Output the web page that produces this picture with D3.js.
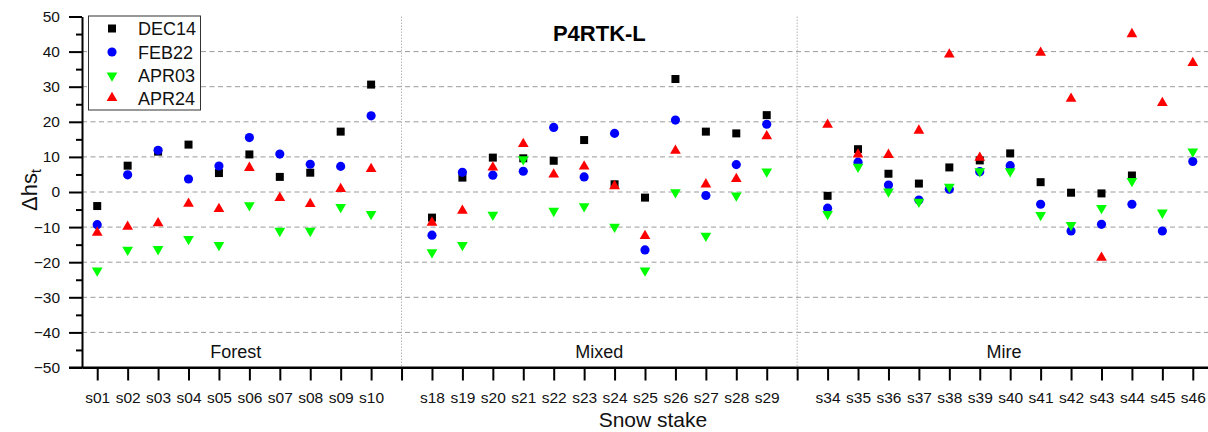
<!DOCTYPE html>
<html>
<head>
<meta charset="utf-8">
<script src="https://cdn.jsdelivr.net/npm/d3@7"></script>
<style>
  body { margin: 0; background: #fff; }
  svg { display: block; font-family: "Liberation Sans", Arial, sans-serif; }
</style>
</head>
<body>
<svg id="chart" width="1208" height="432"></svg>
<script>
// stake labels by position; "" marks the gap between site groups
var stakes = ["s01","s02","s03","s04","s05","s06","s07","s08","s09","s10","",
              "s18","s19","s20","s21","s22","s23","s24","s25","s26","s27","s28","s29","",
              "s34","s35","s36","s37","s38","s39","s40","s41","s42","s43","s44","s45","s46"];

var groups = ["Forest", "Mixed", "Mire"];
var groupCenters = [4.55, 16.5, 29.8];
var separators = [10, 23];

var yTicks = [-50, -40, -30, -20, -10, 0, 10, 20, 30, 40, 50];
var gridTicks = [-40, -30, -20, -10, 0, 10, 20, 30, 40];

// values per stake, same order as the stakes above (gaps skipped)
var dec14 = [-4.0, 7.5, 11.5, 13.5, 5.4, 10.7, 4.3, 5.5, 17.2, 30.6,
             -7.3, 4.1, 9.8, 9.6, 8.9, 14.8, 2.2, -1.6, 32.2, 17.2, 16.7, 21.9,
             -1.1, 12.2, 5.2, 2.4, 7.0, 9.0, 11.0, 2.8, -0.2, -0.4, 4.7, null, null];
var feb22 = [-9.3, 4.9, 11.9, 3.7, 7.4, 15.5, 10.8, 7.9, 7.3, 21.7,
             -12.3, 5.6, 4.8, 5.9, 18.4, 4.3, 16.7, -16.5, 20.5, -1.0, 7.8, 19.3,
             -4.6, 8.5, 2.0, -2.3, 0.8, 5.8, 7.5, -3.5, -11.1, -9.2, -3.5, -11.1, 8.7];
var apr03 = [-22.4, -16.5, -16.3, -13.4, -15.1, -3.8, -11.1, -11.1, -4.3, -6.3,
             -17.2, -15.1, -6.5, 9.3, -5.4, -4.1, -9.9, -22.4, -0.1, -12.5, -1.0, 5.8,
             -6.3, 7.2, 0.1, -2.8, 1.5, 5.9, 5.9, -6.6, -9.4, -4.6, 3.1, -5.9, 11.5];
var apr24 = [-11.6, -9.9, -8.9, -3.3, -4.8, 6.9, -1.7, -3.4, 0.9, 6.6,
             -8.7, -5.3, 7.0, 13.7, 5.0, 7.3, 1.7, -12.5, 11.8, 2.2, 3.7, 15.9,
             19.2, 10.7, 10.6, 17.5, 39.2, 9.8, null, 39.7, 26.6, -18.7, 45.0, 25.4, 36.8];

var seriesNames = ["DEC14", "FEB22", "APR03", "APR24"];
var seriesValues = [dec14, feb22, apr03, apr24];
var seriesColors = ["#000000", "#0000ff", "#00ff00", "#ff0000"];

var svg = d3.select("#chart");
var plotLeft = 82, plotRight = 1208, plotTop = 16.5, plotBottom = 367.5;

var x = d3.scaleLinear().domain([-0.5, 36.5]).range([plotLeft, plotRight]);
var y = d3.scaleLinear().domain([-50, 50]).range([plotBottom, plotTop]);

// stake positions without the gaps
var positions = [];
stakes.forEach(function(s, i) { if (s !== "") positions.push(i); });

// grid
svg.append("g").selectAll("line").data(gridTicks).enter().append("line")
    .attr("x1", plotLeft).attr("x2", plotRight)
    .attr("y1", function(d) { return y(d); }).attr("y2", function(d) { return y(d); })
    .attr("stroke", "#9a9a9a").attr("stroke-width", 1).attr("stroke-dasharray", "5,3.5");

svg.append("g").selectAll("line").data(separators).enter().append("line")
    .attr("x1", function(d) { return x(d); }).attr("x2", function(d) { return x(d); })
    .attr("y1", plotTop).attr("y2", plotBottom)
    .attr("stroke", "#b5b5b5").attr("stroke-width", 1).attr("stroke-dasharray", "1.5,1.5");

// group labels and title
svg.append("g").selectAll("text").data(groups).enter().append("text")
    .attr("x", function(d, i) { return x(groupCenters[i]); })
    .attr("y", 358)
    .attr("text-anchor", "middle").attr("font-size", "18px").attr("fill", "#111")
    .text(function(d) { return d; });

svg.append("text").attr("x", x(16.5)).attr("y", 41)
    .attr("text-anchor", "middle").attr("font-size", "22px").attr("font-weight", "bold")
    .text("P4RTK-L");

// axes
var minus = function(v) { return String(v).replace("-", "\u2212"); };

var yMinor = svg.append("g").attr("transform", "translate(" + plotLeft + ",0)")
    .call(d3.axisLeft(y).tickValues(d3.range(-45, 50, 10)).tickSize(6).tickFormat(""));
yMinor.select(".domain").remove();

var yAxis = svg.append("g").attr("transform", "translate(" + plotLeft + ",0)")
    .call(d3.axisLeft(y).tickValues(yTicks).tickSize(13).tickSizeOuter(0).tickFormat(minus));
yAxis.selectAll("text").attr("x", -22).attr("font-size", "15.5px").attr("fill", "#111")
    .attr("font-family", "Liberation Sans, Arial, sans-serif");

var xAxis = svg.append("g").attr("transform", "translate(0," + plotBottom + ")")
    .call(d3.axisBottom(x).tickValues(d3.range(0, 37)).tickSize(13).tickSizeOuter(0)
        .tickFormat(function(d) { return stakes[d]; }));
xAxis.selectAll("text").attr("y", 24).attr("font-size", "15.5px").attr("fill", "#111")
    .attr("font-family", "Liberation Sans, Arial, sans-serif");

[yMinor, yAxis, xAxis].forEach(function(a) {
    a.selectAll("line").attr("stroke", "#000").attr("stroke-width", 2);
    a.selectAll(".domain").attr("stroke", "#000").attr("stroke-width", 2);
});
// extend the x axis line under the y ticks
svg.append("line").attr("x1", plotLeft - 13).attr("x2", plotRight)
    .attr("y1", plotBottom).attr("y2", plotBottom).attr("stroke", "#000").attr("stroke-width", 2);

// axis titles
svg.append("text").attr("x", x(18.26)).attr("y", 427)
    .attr("text-anchor", "middle").attr("font-size", "21px").attr("fill", "#111")
    .text("Snow stake");

var yTitle = svg.append("text")
    .attr("transform", "translate(37,190) rotate(-90)")
    .attr("text-anchor", "middle").attr("font-size", "22px").attr("fill", "#111");
yTitle.append("tspan").text("\u0394hs");
yTitle.append("tspan").attr("font-size", "14px").attr("dy", 4).text("t");

// markers
var shapes = [
    d3.symbol().type(d3.symbolSquare).size(64),
    d3.symbol().type(d3.symbolCircle).size(66),
    d3.symbol().type(d3.symbolTriangle).size(50),
    d3.symbol().type(d3.symbolTriangle).size(50)
];
var rotations = [0, 0, 180, 0];

seriesValues.forEach(function(vals, s) {
    var pts = vals.map(function(v, i) { return { pos: positions[i], v: v }; })
        .filter(function(d) { return d.v !== null; });
    svg.append("g").selectAll("path").data(pts).enter().append("path")
        .attr("d", shapes[s]())
        .attr("transform", function(d) {
            return "translate(" + x(d.pos) + "," + y(d.v) + ") rotate(" + rotations[s] + ")";
        })
        .attr("fill", seriesColors[s]);
});

// legend
var legend = svg.append("g");
legend.append("rect").attr("x", 88.5).attr("y", 16).attr("width", 112).attr("height", 94)
    .attr("fill", "#fff").attr("stroke", "#333").attr("stroke-width", 1);
var legendY = [28.5, 52, 75.5, 98];
seriesNames.forEach(function(name, s) {
    legend.append("path").attr("d", shapes[s]())
        .attr("transform", "translate(112," + legendY[s] + ") rotate(" + rotations[s] + ")")
        .attr("fill", seriesColors[s]);
    legend.append("text").attr("x", 138).attr("y", legendY[s] + 6.5)
        .attr("font-size", "18px").attr("fill", "#111").text(name);
});
</script>
</body>
</html>
